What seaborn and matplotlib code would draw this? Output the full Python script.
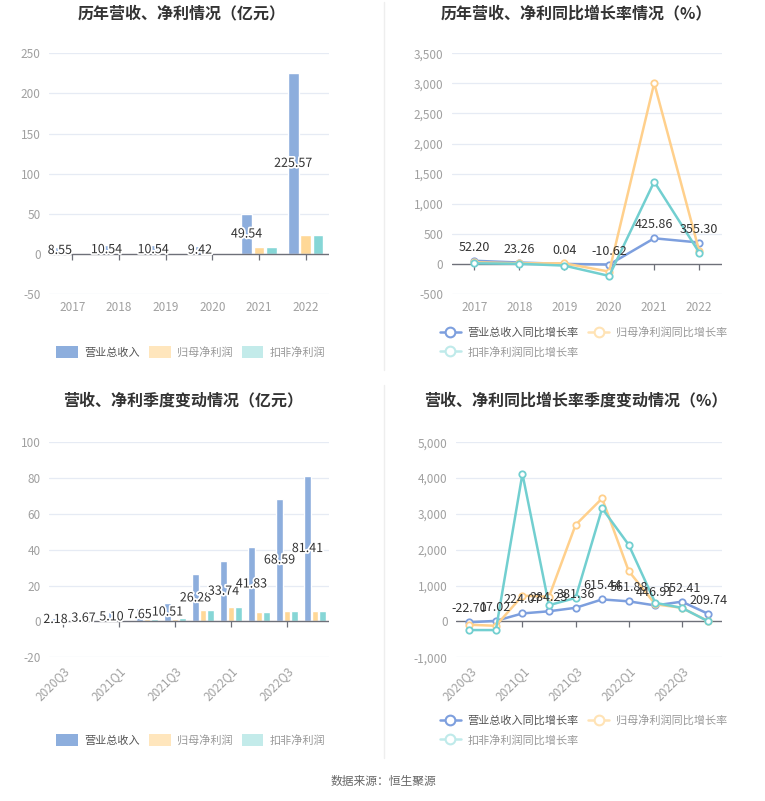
import numpy as np
import pandas as pd
import seaborn as sns
import matplotlib.pyplot as plt
from matplotlib.lines import Line2D
from matplotlib.patches import Patch
import matplotlib.patheffects as pe

# ---- data ----
years = ['2017', '2018', '2019', '2020', '2021', '2022']
rev_year = [8.55, 10.54, 10.54, 9.42, 49.54, 225.57]
np_year = [0.4, 0.45, 0.45, 0.3, 8.0, 24.0]
dnp_year = [0.35, 0.4, 0.4, 0.25, 8.0, 23.5]

rev_yoy = [52.20, 23.26, 0.04, -10.62, 425.86, 355.30]
np_yoy = [28, 10, 10, -128, 3005, 215]
dnp_yoy = [10, 2, -28, -200, 1367, 189]

quarters = ['2020Q3', '2020Q4', '2021Q1', '2021Q2', '2021Q3',
            '2021Q4', '2022Q1', '2022Q2', '2022Q3', '2022Q4']
rev_q = [2.18, 3.67, 5.10, 7.65, 10.51, 26.28, 33.74, 41.83, 68.59, 81.41]
np_q = [0.1, 0.2, 0.5, 1.2, 1.4, 6.2, 7.9, 5.5, 5.7, 5.7]
dnp_q = [0.1, 0.2, 0.5, 1.3, 1.7, 6.2, 7.9, 5.3, 5.6, 5.7]

rev_q_yoy = [-22.70, 17.02, 224.07, 284.23, 381.36, 615.44, 561.88, 446.91, 552.41, 209.74]
np_q_yoy = [-92, -120, 720, 690, 2694, 3435, 1407, 480, 380, 5]
dnp_q_yoy = [-240, -240, 4120, 454, 657, 3157, 2139, 519, 380, 0]

bar_names = ['营业总收入', '归母净利润', '扣非净利润']
line_names = ['营业总收入同比增长率', '归母净利润同比增长率', '扣非净利润同比增长率']

bar_colors = ['#8DAEDD', '#FFD897', '#86D6D6']
line_colors = ['#7D9FDE', '#FFD08C', '#72CFD0']
leg_bar_colors = ['#8DAEDD', '#FFE6BD', '#C3EBEA']
leg_line_colors = ['#7D9FDE', '#FFE3B5', '#BFEAEA']
leg_text_colors = ['#555555', '#999999', '#999999']

sns.set_theme(style='white')
plt.rcParams['font.family'] = ['Noto Sans CJK SC', 'DejaVu Sans']
plt.rcParams['axes.unicode_minus'] = False

fig = plt.figure(figsize=(7.65, 8.01), dpi=100)
W, H = 765.0, 801.0


def axes_px(x0, y0, x1, y1):
    return fig.add_axes([x0 / W, 1 - y1 / H, (x1 - x0) / W, (y1 - y0) / H])


def style_axes(ax, cats, ylim, step, fmt, tick_idx, rotate):
    ax.set_xlim(-0.5, len(cats) - 0.5)
    ax.set_ylim(*ylim)
    ticks = np.arange(ylim[0], ylim[1] + step / 2, step)
    ax.set_yticks(ticks)
    ax.set_yticklabels([fmt(t) for t in ticks], fontsize=8.5, color='#A0A0A0')
    for t in ticks:
        if t != 0:
            ax.axhline(t, color='#E6EBF4', lw=0.9, zorder=0)
    ax.axhline(0, color='#6E7079', lw=1.0, zorder=3)
    for s in ax.spines.values():
        s.set_visible(False)
    ax.tick_params(axis='y', length=0, pad=6)
    ax.tick_params(axis='x', length=0, labelsize=8.5, labelcolor='#A0A0A0', pad=5)
    ax.set_xticks(tick_idx)
    if rotate:
        ax.set_xticklabels([cats[i] for i in tick_idx], rotation=45,
                           ha='right', rotation_mode='anchor')
    else:
        ax.set_xticklabels([cats[i] for i in tick_idx])
    # small tick marks hanging from the zero line
    ax.plot(tick_idx, [0] * len(tick_idx), ls='none', marker=3, ms=4,
            mew=0.9, color='#6E7079', zorder=3, clip_on=False)
    ax.set_xlabel('')
    ax.set_ylabel('')


def bar_panel(ax, cats, vals, ylim, step, tick_idx, rotate):
    df = pd.DataFrame({
        'cat': [c for c in cats for _ in range(3)],
        'series': [n for _ in cats for n in bar_names],
        'value': [v for trio in zip(*vals) for v in trio],
    })
    sns.barplot(data=df, x='cat', y='value', hue='series', hue_order=bar_names,
                palette=bar_colors, saturation=1, width=0.8, gap=0.15,
                errorbar=None, legend=False, ax=ax, zorder=2)
    style_axes(ax, cats, ylim, step, lambda t: f'{int(t)}', tick_idx, rotate)
    # revenue labels in the middle of the bars
    for bar, v in zip(ax.containers[0], vals[0]):
        ax.text(bar.get_x() + bar.get_width() / 2, v / 2, f'{v:.2f}',
                ha='center', va='center', fontsize=9, color='#333333', zorder=5,
                path_effects=[pe.withStroke(linewidth=2.5, foreground='white')])


def line_panel(ax, cats, series, ylim, step, tick_idx, rotate):
    x = np.arange(len(cats))
    for vals, c in zip(series, line_colors):
        sns.lineplot(x=x, y=vals, color=c, lw=1.8, marker='o', ms=4.6,
                     mfc='white', mec=c, mew=1.3, ax=ax, zorder=4)
    style_axes(ax, cats, ylim, step, lambda t: f'{int(t):,}', tick_idx, rotate)
    for i, v in enumerate(series[0]):
        ax.annotate(f'{v:.2f}', (i, v), xytext=(0, 5), textcoords='offset points',
                    ha='center', va='bottom', fontsize=9, color='#333333', zorder=6)


# ---- top left: annual bars ----
ax1 = axes_px(49, 53.3, 329, 294)
bar_panel(ax1, years, [rev_year, np_year, dnp_year], (-50, 250), 50,
          list(range(6)), False)

# ---- top right: annual growth ----
ax2 = axes_px(451.7, 53.3, 721.7, 294)
line_panel(ax2, years, [rev_yoy, np_yoy, dnp_yoy], (-500, 3500), 500,
           list(range(6)), False)

# ---- bottom left: quarterly bars ----
ax3 = axes_px(49, 442.3, 329, 657.3)
bar_panel(ax3, quarters, [rev_q, np_q, dnp_q], (-20, 100), 20,
          [0, 2, 4, 6, 8], True)

# ---- bottom right: quarterly growth ----
ax4 = axes_px(456, 442.3, 721.7, 657.3)
line_panel(ax4, quarters, [rev_q_yoy, np_q_yoy, dnp_q_yoy], (-1000, 5000), 1000,
           [0, 2, 4, 6, 8], True)

# ---- titles ----
title_kw = dict(fontsize=11.5, fontweight='bold', color='#333333', ha='center', va='center')
fig.text(182 / W, 1 - 13 / H, '历年营收、净利情况（亿元）', **title_kw)
fig.text(576 / W, 1 - 13 / H, '历年营收、净利同比增长率情况（%）', **title_kw)
fig.text(183 / W, 1 - 400 / H, '营收、净利季度变动情况（亿元）', **title_kw)
fig.text(576 / W, 1 - 400 / H, '营收、净利同比增长率季度变动情况（%）', **title_kw)

# ---- legends ----
bar_handles = [Patch(facecolor=c, edgecolor='none') for c in leg_bar_colors]
line_handles = [Line2D([0], [0], color=c, lw=1.8, marker='o', ms=7,
                       mfc='white', mec=c, mew=1.5) for c in leg_line_colors]
# column-major filling: order so rows read item1, item2 / item3
order = [0, 2, 1]

for yc in (352, 740):
    leg = fig.legend(bar_handles, bar_names, loc='center left',
                     bbox_to_anchor=(56 / W, 1 - yc / H), ncol=3, frameon=False,
                     fontsize=8, handlelength=1.95, handleheight=1.2,
                     handletextpad=0.55, columnspacing=0.85, borderpad=0,
                     borderaxespad=0)
    for txt, c in zip(leg.get_texts(), leg_text_colors):
        txt.set_color(c)

for yc in (342, 730):
    leg = fig.legend([line_handles[i] for i in order], [line_names[i] for i in order],
                     loc='center left', bbox_to_anchor=(440 / W, 1 - yc / H), ncol=2,
                     frameon=False, fontsize=8, handlelength=1.85, handletextpad=0.6,
                     columnspacing=0.9, labelspacing=0.8, borderpad=0,
                     borderaxespad=0)
    for txt, i in zip(leg.get_texts(), order):
        txt.set_color(leg_text_colors[i])

# panel separators
fig.add_artist(Line2D([384 / W, 384 / W], [1 - 2 / H, 1 - 370 / H], color='#EEEEEE', lw=1))
fig.add_artist(Line2D([384 / W, 384 / W], [1 - 385 / H, 1 - 758 / H], color='#EEEEEE', lw=1))

fig.text(383 / W, 1 - 781 / H, '数据来源：恒生聚源', fontsize=8.5, color='#666666',
         ha='center', va='center')

fig.savefig('out.png', dpi=100)
